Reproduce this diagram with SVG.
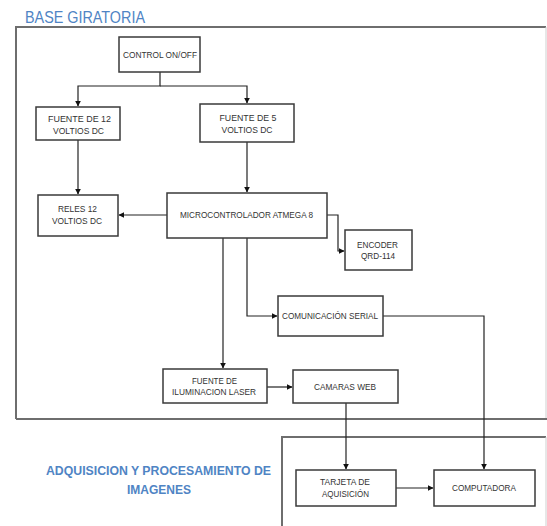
<svg xmlns="http://www.w3.org/2000/svg" width="547" height="526" viewBox="0 0 547 526">
<defs>
<style>
.frame{fill:none;stroke:#6e6e6e;stroke-width:2}
.box{fill:#fff;stroke:#3a3a3a;stroke-width:1.5}
.t{font-family:"Liberation Sans",Arial,sans-serif;font-size:9.5px;fill:#333;text-anchor:middle}
.c{fill:none;stroke:#222;stroke-width:1.2}
.title{font-family:"Liberation Sans",Arial,sans-serif;fill:#4f84c4}
</style>
<marker id="ah" viewBox="0 0 10 10" refX="9" refY="5" markerWidth="6" markerHeight="6" orient="auto" markerUnits="userSpaceOnUse">
<path d="M0,0 L10,5 L0,10 Z" fill="#111"/>
</marker>
</defs>
<rect width="547" height="526" fill="#fff"/>
<text class="title" x="25" y="23" font-size="17" textLength="120" lengthAdjust="spacingAndGlyphs">BASE GIRATORIA</text>
<path class="frame" d="M16,419 V27 H546"/>
<path d="M546,27 V419" stroke="#cfcfcf" stroke-width="1" fill="none"/>
<path d="M16,419 H547" stroke="#6e6e6e" stroke-width="2" fill="none"/>
<path d="M282,526 V437 H546" stroke="#6e6e6e" stroke-width="2" fill="none"/>
<path d="M546,437 V526" stroke="#cfcfcf" stroke-width="1" fill="none"/>
<text class="title" x="158.5" y="475" font-size="13" font-weight="bold" text-anchor="middle" textLength="225" lengthAdjust="spacingAndGlyphs">ADQUISICION Y PROCESAMIENTO DE</text>
<text class="title" x="159" y="494" font-size="13" font-weight="bold" text-anchor="middle" textLength="64" lengthAdjust="spacingAndGlyphs">IMAGENES</text>
<g id="connectors">
<path class="c" d="M160,72 V86 H78 V106" marker-end="url(#ah)"/>
<path class="c" d="M160,86 H247 V103" marker-end="url(#ah)"/>
<path class="c" d="M78,140 V194" marker-end="url(#ah)"/>
<path class="c" d="M247,142 V192" marker-end="url(#ah)"/>
<path class="c" d="M167,215 H119" marker-end="url(#ah)"/>
<path class="c" d="M327,215 H338 V251 H344" marker-end="url(#ah)"/>
<path class="c" d="M223,238 V368" marker-end="url(#ah)"/>
<path class="c" d="M247,238 V316 H277" marker-end="url(#ah)"/>
<path class="c" d="M383,316 H484 V469" marker-end="url(#ah)"/>
<path class="c" d="M267,387 H292" marker-end="url(#ah)"/>
<path class="c" d="M346,403 V469" marker-end="url(#ah)"/>
<path class="c" d="M396,488 H433" marker-end="url(#ah)"/>
</g>
<g id="control"><rect class="box" x="119" y="37" width="81" height="35"/><text class="t" x="160" y="58" textLength="74" lengthAdjust="spacingAndGlyphs">CONTROL ON/OFF</text></g>
<g id="fuente12"><rect class="box" x="36" y="107" width="84" height="33"/><text class="t" x="79.5" y="122" textLength="63" lengthAdjust="spacingAndGlyphs">FUENTE DE 12</text><text class="t" x="78.5" y="134" textLength="51" lengthAdjust="spacingAndGlyphs">VOLTIOS DC</text></g>
<g id="fuente5"><rect class="box" x="200" y="104" width="94" height="38"/><text class="t" x="248" y="121" textLength="57" lengthAdjust="spacingAndGlyphs">FUENTE DE 5</text><text class="t" x="247" y="133" textLength="51" lengthAdjust="spacingAndGlyphs">VOLTIOS DC</text></g>
<g id="reles"><rect class="box" x="38" y="195" width="80" height="41"/><text class="t" x="77.5" y="212" textLength="39" lengthAdjust="spacingAndGlyphs">RELES 12</text><text class="t" x="77" y="224" textLength="50" lengthAdjust="spacingAndGlyphs">VOLTIOS DC</text></g>
<g id="micro"><rect class="box" x="167" y="193" width="160" height="45"/><text class="t" x="246.5" y="218" textLength="133" lengthAdjust="spacingAndGlyphs">MICROCONTROLADOR ATMEGA 8</text></g>
<g id="encoder"><rect class="box" x="345" y="230" width="67" height="40"/><text class="t" x="377.5" y="247.5" textLength="41" lengthAdjust="spacingAndGlyphs">ENCODER</text><text class="t" x="378" y="259" textLength="34" lengthAdjust="spacingAndGlyphs">QRD-114</text></g>
<g id="serial"><rect class="box" x="278" y="296" width="105" height="40"/><text class="t" x="330" y="319" textLength="96" lengthAdjust="spacingAndGlyphs">COMUNICACIÓN SERIAL</text></g>
<g id="laser"><rect class="box" x="163" y="369" width="104" height="34"/><text class="t" x="214.5" y="383.5" textLength="45" lengthAdjust="spacingAndGlyphs">FUENTE DE</text><text class="t" x="214" y="395" textLength="84" lengthAdjust="spacingAndGlyphs">ILUMINACION LASER</text></g>
<g id="camaras"><rect class="box" x="293" y="370" width="105" height="33"/><text class="t" x="345" y="389.5" textLength="62" lengthAdjust="spacingAndGlyphs">CAMARAS WEB</text></g>
<g id="tarjeta"><rect class="box" x="296" y="470" width="100" height="36"/><text class="t" x="345" y="485" textLength="50" lengthAdjust="spacingAndGlyphs">TARJETA DE</text><text class="t" x="345.5" y="497" textLength="47" lengthAdjust="spacingAndGlyphs">AQUISICIÓN</text></g>
<g id="computadora"><rect class="box" x="434" y="470" width="101" height="36"/><text class="t" x="484" y="491" textLength="64" lengthAdjust="spacingAndGlyphs">COMPUTADORA</text></g>
</svg>
